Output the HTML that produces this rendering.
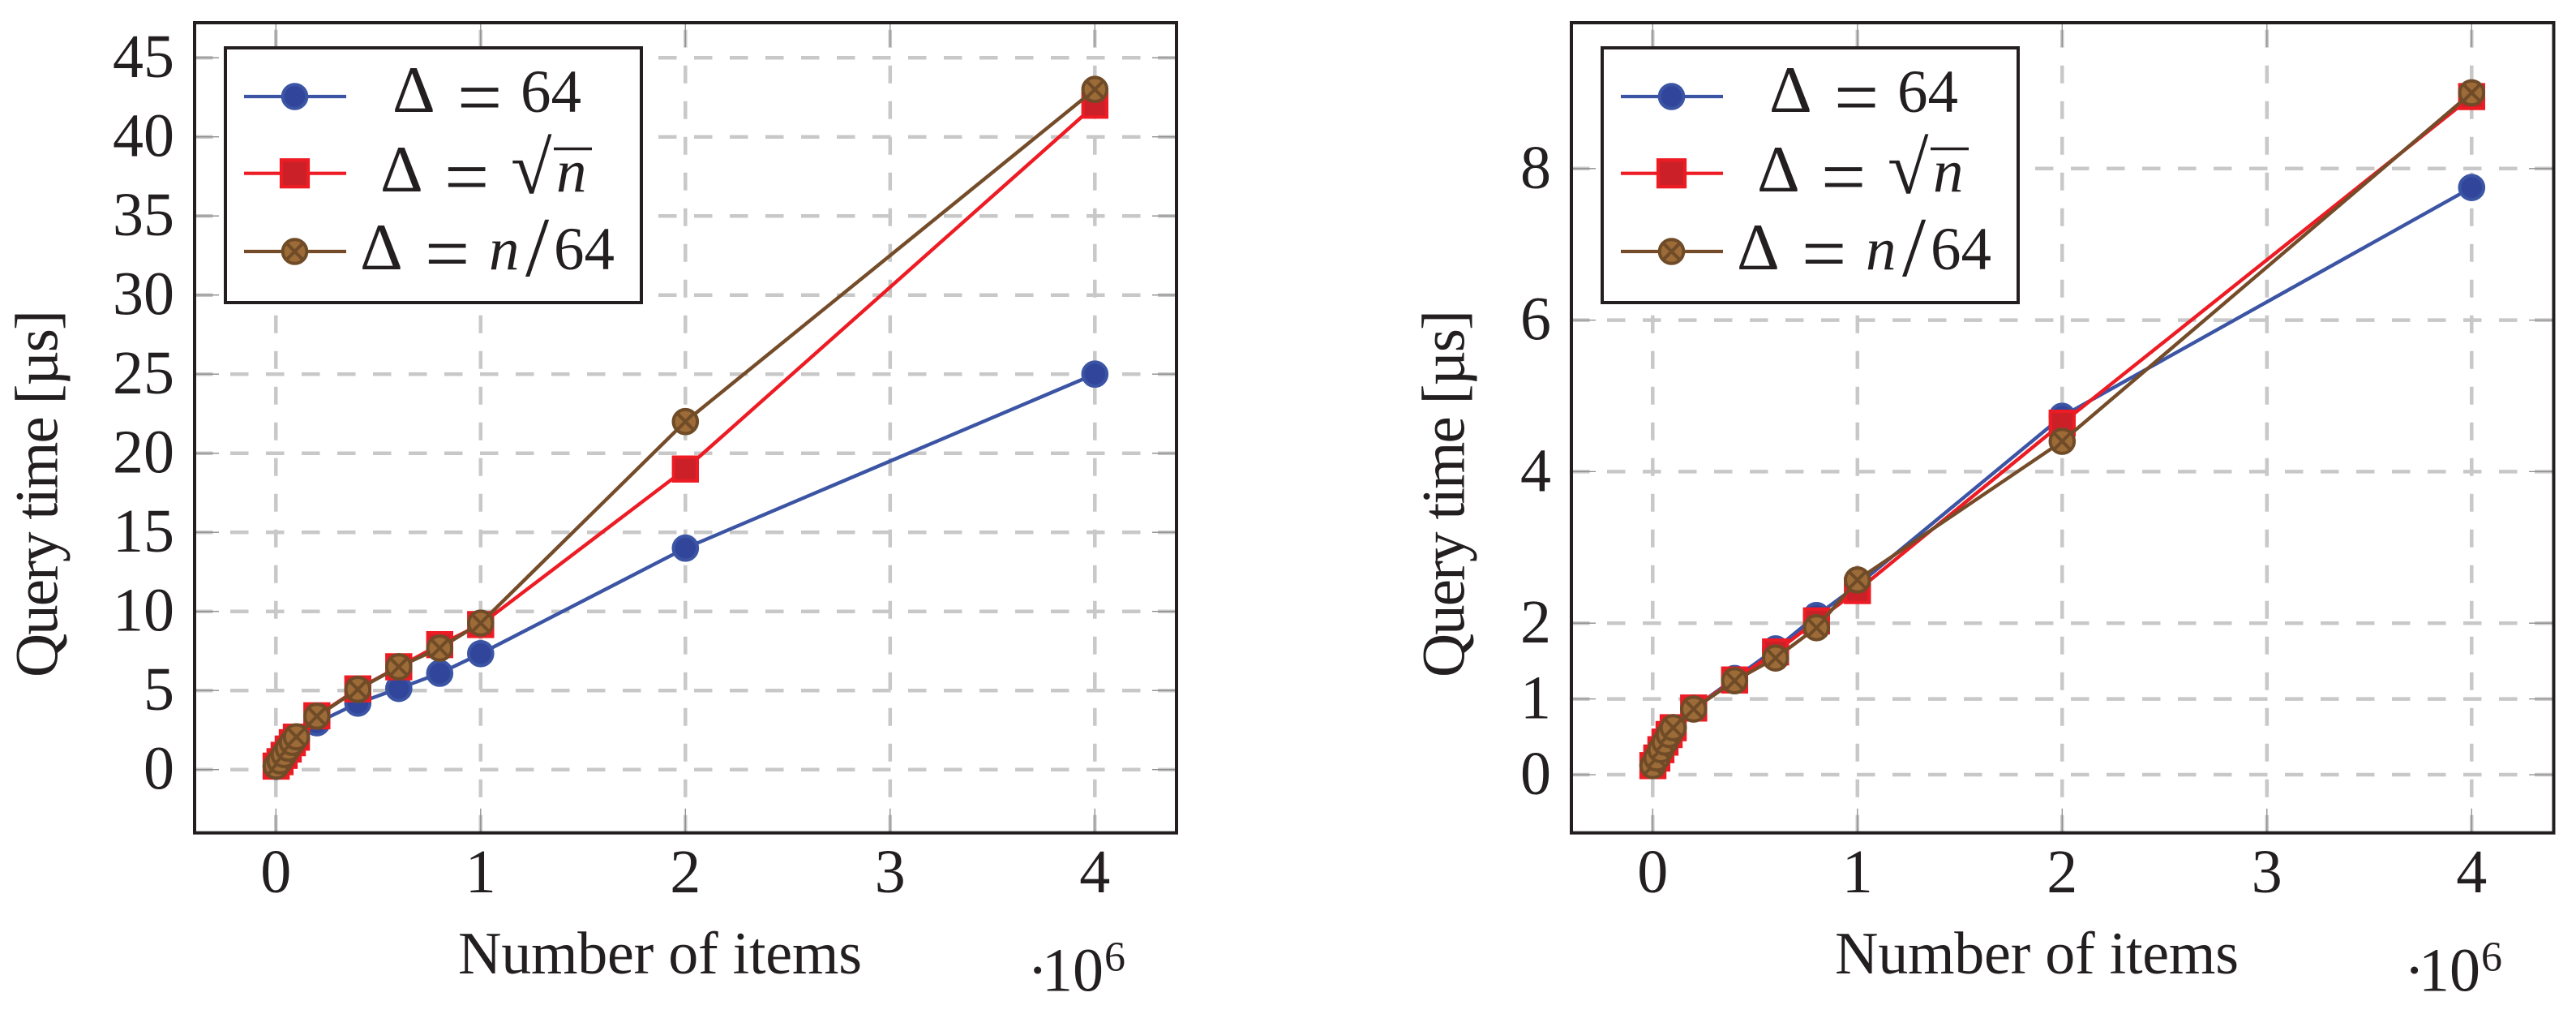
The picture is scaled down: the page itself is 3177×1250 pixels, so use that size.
<!DOCTYPE html>
<html lang="en">
<head>
<meta charset="utf-8">
<title>Query time vs number of items</title>
<style>
html,body{margin:0;padding:0;background:#fff;}
svg{display:block;}
text{font-family:"Liberation Serif",serif;fill:#231f20;}
</style>
</head>
<body>
<svg id="figure" xmlns="http://www.w3.org/2000/svg" width="3177" height="1250" viewBox="0 0 3177 1250">
  <rect width="3177" height="1250" fill="#fff"/>

  <g id="plot-left">
    <g id="plot-left-grid"></g>
    <g id="plot-left-ticks"></g>
    <g id="plot-left-series"></g>
    <rect x="240" y="28" width="1211" height="998.7" fill="none" stroke="#231f20" stroke-width="4"/>
    <g id="plot-left-labels"></g>
    <text transform="translate(70.7,835) rotate(-90)" font-size="75" textLength="453" lengthAdjust="spacing">Query time [µs]</text>
    <text x="565" y="1200" font-size="74" textLength="498" lengthAdjust="spacing">Number of items</text>
    <text font-size="76"><tspan x="1267" y="1221.7">·</tspan><tspan x="1285" y="1221.7">10</tspan><tspan x="1362" y="1196.7" font-size="52">6</tspan></text>
    <g>
      <rect x="278" y="59" width="513" height="314" fill="#fff" stroke="#231f20" stroke-width="4"/>
      <g>
        <line x1="301" y1="119" x2="427" y2="119" stroke="#3b54a4" stroke-width="4.2"/>
        <circle cx="363.5" cy="119" r="14.8" fill="#31469b" stroke="#3b54a4" stroke-width="4"/>
        <text font-size="75"><tspan x="484" y="138" font-size="82">Δ</tspan><tspan x="564" y="152.5" font-size="98">=</tspan><tspan x="642" y="138">64</tspan></text>
      </g>
      <g>
        <line x1="301" y1="213.7" x2="427" y2="213.7" stroke="#ed1c24" stroke-width="4.2"/>
        <rect x="347" y="197.2" width="33" height="33" fill="#cb2027" stroke="#ed1c24" stroke-width="4.2"/>
        <text font-size="75"><tspan x="469" y="236" font-size="82">Δ</tspan><tspan x="548" y="250.7" font-size="98">=</tspan><tspan x="630" y="238" font-size="92">√</tspan><tspan x="686" y="236" font-style="italic">n</tspan></text>
        <line x1="683" y1="183.5" x2="730" y2="183.5" stroke="#231f20" stroke-width="3.5"/>
      </g>
      <g>
        <line x1="301" y1="310" x2="427" y2="310" stroke="#754c29" stroke-width="4.2"/>
        <circle cx="363.5" cy="310" r="14.8" fill="#9c6b37" stroke="#6f4b28" stroke-width="4"/>
        <path d="M353.2 299.7L373.8 320.3M353.2 320.3L373.8 299.7" stroke="#6f4b28" stroke-width="4" fill="none"/>
        <text font-size="75"><tspan x="444" y="332" font-size="82">Δ</tspan><tspan x="524" y="345" font-size="98">=</tspan><tspan x="603" y="332" font-style="italic">n</tspan><tspan x="648" y="340" font-size="105">/</tspan><tspan x="683" y="332">64</tspan></text>
      </g>
    </g>
  </g>

  <g id="plot-right" transform="translate(1698,0)">
    <g id="plot-right-grid"></g>
    <g id="plot-right-ticks"></g>
    <g id="plot-right-series"></g>
    <rect x="240" y="28" width="1211.5" height="998.7" fill="none" stroke="#231f20" stroke-width="4"/>
    <g id="plot-right-labels"></g>
    <text transform="translate(107.7,835) rotate(-90)" font-size="75" textLength="453" lengthAdjust="spacing">Query time [µs]</text>
    <text x="565" y="1200" font-size="74" textLength="498" lengthAdjust="spacing">Number of items</text>
    <text font-size="76"><tspan x="1267" y="1221.7">·</tspan><tspan x="1285" y="1221.7">10</tspan><tspan x="1362" y="1196.7" font-size="52">6</tspan></text>
    <g>
      <rect x="278" y="59" width="513" height="314" fill="#fff" stroke="#231f20" stroke-width="4"/>
      <g>
        <line x1="301" y1="119" x2="427" y2="119" stroke="#3b54a4" stroke-width="4.2"/>
        <circle cx="363.5" cy="119" r="14.8" fill="#31469b" stroke="#3b54a4" stroke-width="4"/>
        <text font-size="75"><tspan x="484" y="138" font-size="82">Δ</tspan><tspan x="564" y="152.5" font-size="98">=</tspan><tspan x="642" y="138">64</tspan></text>
      </g>
      <g>
        <line x1="301" y1="213.7" x2="427" y2="213.7" stroke="#ed1c24" stroke-width="4.2"/>
        <rect x="347" y="197.2" width="33" height="33" fill="#cb2027" stroke="#ed1c24" stroke-width="4.2"/>
        <text font-size="75"><tspan x="469" y="236" font-size="82">Δ</tspan><tspan x="548" y="250.7" font-size="98">=</tspan><tspan x="630" y="238" font-size="92">√</tspan><tspan x="686" y="236" font-style="italic">n</tspan></text>
        <line x1="683" y1="183.5" x2="730" y2="183.5" stroke="#231f20" stroke-width="3.5"/>
      </g>
      <g>
        <line x1="301" y1="310" x2="427" y2="310" stroke="#754c29" stroke-width="4.2"/>
        <circle cx="363.5" cy="310" r="14.8" fill="#9c6b37" stroke="#6f4b28" stroke-width="4"/>
        <path d="M353.2 299.7L373.8 320.3M353.2 320.3L373.8 299.7" stroke="#6f4b28" stroke-width="4" fill="none"/>
        <text font-size="75"><tspan x="444" y="332" font-size="82">Δ</tspan><tspan x="524" y="345" font-size="98">=</tspan><tspan x="603" y="332" font-style="italic">n</tspan><tspan x="648" y="340" font-size="105">/</tspan><tspan x="683" y="332">64</tspan></text>
      </g>
    </g>
  </g>
</svg>

<script>
// Data: x in millions of items, y in microseconds
const itemCounts = [0.001, 0.02, 0.04, 0.06, 0.08, 0.1, 0.2, 0.4, 0.6, 0.8, 1, 2, 4];
const xTickValues = [0, 1, 2, 3, 4];

const leftYTicks = [0, 5, 10, 15, 20, 25, 30, 35, 40, 45];
const leftDelta64 = [0.2, 0.5, 0.9, 1.25, 1.55, 1.85, 2.96, 4.2, 5.13, 6.09, 7.33, 14, 25];
const leftDeltaSqrt = [0.22, 0.5, 0.9, 1.3, 1.7, 2.05, 3.4, 5.1, 6.5, 7.9, 9.17, 19, 42];
const leftDeltaN64 = [0.22, 0.55, 0.95, 1.35, 1.72, 2.07, 3.37, 5.07, 6.5, 7.68, 9.26, 22, 43];

const rightYTicks = [0, 1, 2, 4, 6, 8];
const rightDelta64 = [0.12, 0.22, 0.33, 0.43, 0.53, 0.62, 0.88, 1.27, 1.66, 2.1, 2.5, 4.73, 7.75];
const rightDeltaSqrt = [0.12, 0.22, 0.33, 0.43, 0.53, 0.62, 0.88, 1.25, 1.62, 2.03, 2.43, 4.64, 8.95];
const rightDeltaN64 = [0.12, 0.22, 0.33, 0.43, 0.53, 0.62, 0.867, 1.24, 1.54, 1.94, 2.57, 4.4, 9];

const SVG_NS = 'http://www.w3.org/2000/svg';
function make(tag, attrs, parent) {
  const node = document.createElementNS(SVG_NS, tag);
  for (const key in attrs) node.setAttribute(key, attrs[key]);
  parent.appendChild(node);
  return node;
}

const axisLeft = 240, axisRight = 1451, axisTop = 28, axisBottom = 1026.7;
function xScale(v) { return 340.3 + v * 252.5; }
function leftYScale(v) { return 948.7 - v * 19.5; }
function rightYScale(v) { return 955 - v * 93.4; }

function drawGridAndTicks(prefix, yTicks, yScale) {
  const grid = document.getElementById(prefix + '-grid');
  const ticks = document.getElementById(prefix + '-ticks');
  const labels = document.getElementById(prefix + '-labels');
  xTickValues.forEach(function (v) {
    const x = xScale(v);
    const g = make('line', {x1: x, y1: axisBottom, x2: x, y2: axisTop, stroke: '#c8c8c8', 'stroke-width': 4.5, 'stroke-dasharray': '22 22'}, grid);
    
    
    const t1 = make('line', {x1: x, y1: axisBottom, x2: x, y2: axisBottom - 30, stroke: '#8c8c8c', 'stroke-width': 1.3}, ticks);
    
    
    const t2 = make('line', {x1: x, y1: axisTop, x2: x, y2: axisTop + 30, stroke: '#8c8c8c', 'stroke-width': 1.3}, ticks);
    
    
    const lab = make('text', {x: x, y: 1100, 'font-size': 76, 'text-anchor': 'middle'}, labels);
    
    
    lab.textContent = String(v);
  });
  yTicks.forEach(function (v) {
    const y = yScale(v);
    const g = make('line', {x1: axisLeft, y1: y, x2: axisRight, y2: y, stroke: '#c8c8c8', 'stroke-width': 4.5, 'stroke-dasharray': '22.5 21.5'}, grid);
    
    
    const t1 = make('line', {x1: axisLeft, y1: y, x2: axisLeft + 30, y2: y, stroke: '#8c8c8c', 'stroke-width': 1.3}, ticks);
    
    
    const t2 = make('line', {x1: axisRight, y1: y, x2: axisRight - 30, y2: y, stroke: '#8c8c8c', 'stroke-width': 1.3}, ticks);
    
    
    const lab = make('text', {x: 215, y: y + 24, 'font-size': 76, 'text-anchor': 'end'}, labels);
    
    
    lab.textContent = String(v);
  });
}

function drawBlue(prefix, values, yScale) {
  const host = document.getElementById(prefix + '-series');
  const group = make('g', {}, host);
  
  
  const line = make('polyline', {points: values.map(function (v, i) { return xScale(itemCounts[i]) + ',' + yScale(v); }).join(' '), fill: 'none', stroke: '#3b54a4', 'stroke-width': 4.4}, group);
  
  
  values.forEach(function (v, i) {
    const m = make('circle', {cx: xScale(itemCounts[i]), cy: yScale(v), r: 14.8, fill: '#31469b', stroke: '#3b54a4', 'stroke-width': 4}, group);
    
    
  });
}

function drawRed(prefix, values, yScale) {
  const host = document.getElementById(prefix + '-series');
  const group = make('g', {}, host);
  
  
  const line = make('polyline', {points: values.map(function (v, i) { return xScale(itemCounts[i]) + ',' + yScale(v); }).join(' '), fill: 'none', stroke: '#ed1c24', 'stroke-width': 4.4}, group);
  
  
  values.forEach(function (v, i) {
    const m = make('rect', {x: xScale(itemCounts[i]) - 14.6, y: yScale(v) - 14.6, width: 29.2, height: 29.2, fill: '#cb2027', stroke: '#ed1c24', 'stroke-width': 4.2}, group);
    
    
  });
}

function drawBrown(prefix, values, yScale) {
  const host = document.getElementById(prefix + '-series');
  const group = make('g', {}, host);
  
  
  const line = make('polyline', {points: values.map(function (v, i) { return xScale(itemCounts[i]) + ',' + yScale(v); }).join(' '), fill: 'none', stroke: '#754c29', 'stroke-width': 4.4}, group);
  
  
  values.forEach(function (v, i) {
    const cx = xScale(itemCounts[i]), cy = yScale(v), d = 10.3;
    const m = make('circle', {cx: cx, cy: cy, r: 14.8, fill: '#9c6b37', stroke: '#6f4b28', 'stroke-width': 4}, group);
    
    
    const c = make('path', {d: 'M' + (cx - d) + ' ' + (cy - d) + 'L' + (cx + d) + ' ' + (cy + d) + 'M' + (cx - d) + ' ' + (cy + d) + 'L' + (cx + d) + ' ' + (cy - d), fill: 'none', stroke: '#6f4b28', 'stroke-width': 4}, group);
    
    
  });
}

drawGridAndTicks('plot-left', leftYTicks, leftYScale);
drawBlue('plot-left', leftDelta64, leftYScale);
drawRed('plot-left', leftDeltaSqrt, leftYScale);
drawBrown('plot-left', leftDeltaN64, leftYScale);

drawGridAndTicks('plot-right', rightYTicks, rightYScale);
drawBlue('plot-right', rightDelta64, rightYScale);
drawRed('plot-right', rightDeltaSqrt, rightYScale);
drawBrown('plot-right', rightDeltaN64, rightYScale);
</script>
</body>
</html>
